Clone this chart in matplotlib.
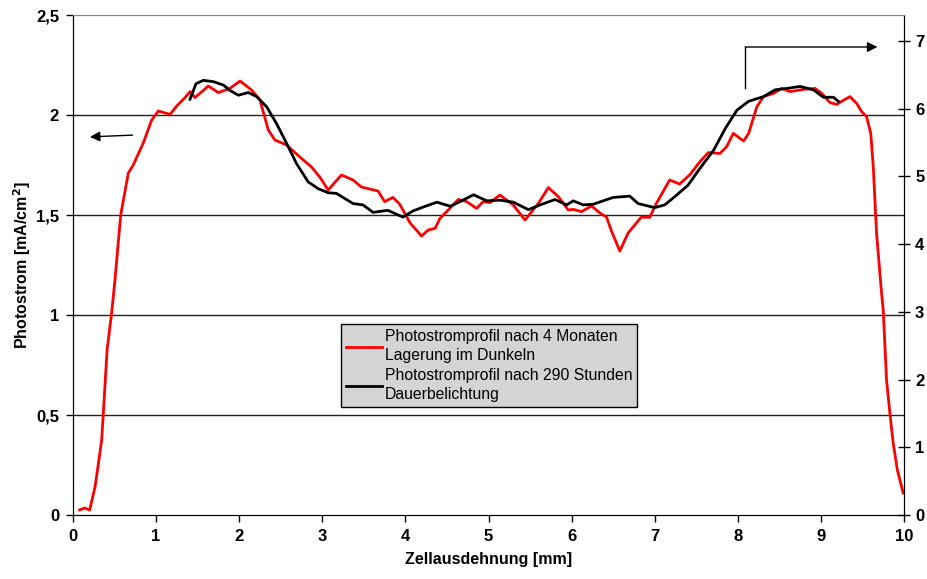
import matplotlib.pyplot as plt
from matplotlib.lines import Line2D

plt.rcParams['font.family'] = ['Liberation Sans', 'DejaVu Sans']

# Photostromprofil nach 4 Monaten Lagerung im Dunkeln (linke Achse, mA/cm^2)
red_x = [0.08, 0.14, 0.2, 0.265, 0.30, 0.345, 0.365, 0.41, 0.465, 0.505, 0.574, 0.666, 0.725,
         0.846, 0.947, 1.027, 1.167, 1.248, 1.348, 1.408, 1.468, 1.628, 1.749, 1.889, 2.01,
         2.15, 2.25, 2.35, 2.43, 2.57, 2.73, 2.87, 2.97, 3.07, 3.23, 3.37, 3.47, 3.67, 3.75,
         3.85, 3.93, 4.06, 4.195, 4.275, 4.356, 4.416, 4.497, 4.637, 4.737, 4.857, 4.937,
         5.018, 5.138, 5.298, 5.44, 5.60, 5.72, 5.84, 5.96, 6.02, 6.12, 6.24, 6.34, 6.42,
         6.48, 6.58, 6.68, 6.84, 6.94, 7.02, 7.18, 7.30, 7.42, 7.545, 7.645, 7.786, 7.866,
         7.946, 8.07, 8.13, 8.23, 8.31, 8.43, 8.53, 8.63, 8.79, 8.93, 9.01, 9.11, 9.19, 9.29,
         9.35, 9.43, 9.49, 9.55, 9.60, 9.63, 9.67, 9.73, 9.75, 9.79, 9.83, 9.87, 9.92, 9.99]
red_y = [0.025, 0.035, 0.025, 0.14, 0.24, 0.375, 0.51, 0.825, 1.01, 1.175, 1.5, 1.71, 1.75,
         1.86, 1.975, 2.02, 2.003, 2.045, 2.087, 2.117, 2.087, 2.145, 2.112, 2.133, 2.17,
         2.125, 2.075, 1.925, 1.875, 1.85, 1.79, 1.74, 1.69, 1.625, 1.70, 1.675, 1.64, 1.62,
         1.567, 1.588, 1.555, 1.458, 1.395, 1.425, 1.433, 1.483, 1.517, 1.578, 1.567, 1.533,
         1.567, 1.562, 1.60, 1.55, 1.475, 1.558, 1.637, 1.592, 1.525, 1.528, 1.517, 1.545,
         1.51, 1.49, 1.42, 1.32, 1.41, 1.49, 1.488, 1.558, 1.675, 1.655, 1.70, 1.767, 1.812,
         1.808, 1.842, 1.908, 1.87, 1.908, 2.042, 2.092, 2.108, 2.133, 2.117, 2.128, 2.133,
         2.108, 2.062, 2.053, 2.078, 2.092, 2.058, 2.017, 1.992, 1.908, 1.742, 1.408, 1.11,
         1.025, 0.675, 0.51, 0.36, 0.225, 0.11]

# Photostromprofil nach 290 Stunden Dauerbelichtung (rechte Achse)
black_x = [1.408, 1.48, 1.568, 1.69, 1.81, 1.89, 1.99, 2.11, 2.21, 2.33, 2.45, 2.57, 2.69,
           2.83, 2.89, 2.95, 3.07, 3.17, 3.37, 3.49, 3.61, 3.79, 3.97, 4.09, 4.24, 4.38, 4.54,
           4.66, 4.82, 4.98, 5.14, 5.30, 5.48, 5.62, 5.80, 5.94, 6.02, 6.14, 6.26, 6.38, 6.50,
           6.70, 6.80, 7.00, 7.12, 7.24, 7.40, 7.545, 7.71, 7.85, 7.99, 8.13, 8.31, 8.45, 8.59,
           8.75, 8.91, 9.03, 9.15, 9.21]
black_y = [6.14, 6.37, 6.42, 6.40, 6.35, 6.27, 6.20, 6.24, 6.18, 6.03, 5.78, 5.49, 5.19,
           4.92, 4.87, 4.82, 4.76, 4.75, 4.60, 4.58, 4.47, 4.50, 4.40, 4.49, 4.56, 4.62, 4.56,
           4.63, 4.73, 4.64, 4.65, 4.62, 4.51, 4.58, 4.66, 4.58, 4.64, 4.58, 4.59, 4.64, 4.69,
           4.71, 4.60, 4.54, 4.58, 4.70, 4.87, 5.12, 5.39, 5.71, 5.98, 6.11, 6.18, 6.28, 6.30,
           6.33, 6.28, 6.17, 6.17, 6.11]

fig = plt.figure(figsize=(9.28, 5.79), dpi=100)
ax = fig.add_axes([73 / 928, 1 - 515 / 579, 831 / 928, 500 / 579])
ax2 = ax.twinx()

ax.plot(red_x, red_y, color='#ff0000', lw=2)
ax2.plot(black_x, black_y, color='black', lw=2)

ax.set_xlim(0, 10)
ax.set_ylim(0, 2.5)
ax2.set_ylim(0, 7.385)
ax.set_xticks(range(11))
ax.set_yticks([0, 0.5, 1, 1.5, 2, 2.5])
ax.set_yticklabels(['0', '0,5', '1', '1,5', '2', '2,5'])
ax2.set_yticks(range(8))

for y in [0.5, 1, 1.5, 2]:
    ax.axhline(y, color='#222222', lw=1, zorder=0)
ax.spines['top'].set_color('#888888')
ax2.spines['top'].set_color('#888888')

for a in (ax, ax2):
    for lab in a.get_xticklabels() + a.get_yticklabels():
        lab.set_fontweight('bold')
        lab.set_fontsize(12)
ax.tick_params(axis='both', direction='out', length=5, width=1, pad=5)
ax2.tick_params(axis='y', direction='inout', length=8, width=1, pad=4)

ax.set_xlabel('Zellausdehnung [mm]', fontweight='bold', fontsize=11.5, labelpad=6)
ax.set_ylabel('Photostrom [mA/cm$^\\mathbf{2}$]', fontweight='bold', fontsize=11.5, labelpad=2)

# Pfeile zur Achsenzuordnung
ax.annotate('', xy=(0.17, 1.89), xytext=(0.75, 1.9),
            arrowprops=dict(arrowstyle='-|>', color='black', lw=1, mutation_scale=15))
ax.plot([8.09, 8.09], [2.135, 2.34], color='black', lw=1)
ax.annotate('', xy=(9.68, 2.34), xytext=(8.09, 2.34),
            arrowprops=dict(arrowstyle='-|>', color='black', lw=1, mutation_scale=15,
                            shrinkA=0, shrinkB=0))

handles = [Line2D([], [], color='#ff0000', lw=2), Line2D([], [], color='black', lw=2)]
labels = ['Photostromprofil nach 4 Monaten\nLagerung im Dunkeln',
          'Photostromprofil nach 290 Stunden\nDauerbelichtung']
leg = ax2.legend(handles, labels, loc='lower left', bbox_to_anchor=(0.3225, 0.216),
                 fontsize=11.3, frameon=True, fancybox=False, facecolor='#d4d4d4',
                 edgecolor='black', framealpha=1, handlelength=2.3, handletextpad=0.2,
                 borderpad=0.3, labelspacing=0.3, borderaxespad=0)
for t in leg.get_texts():
    t.set_linespacing(1.35)
leg.get_frame().set_linewidth(1)

fig.savefig('out.png', dpi=100)
